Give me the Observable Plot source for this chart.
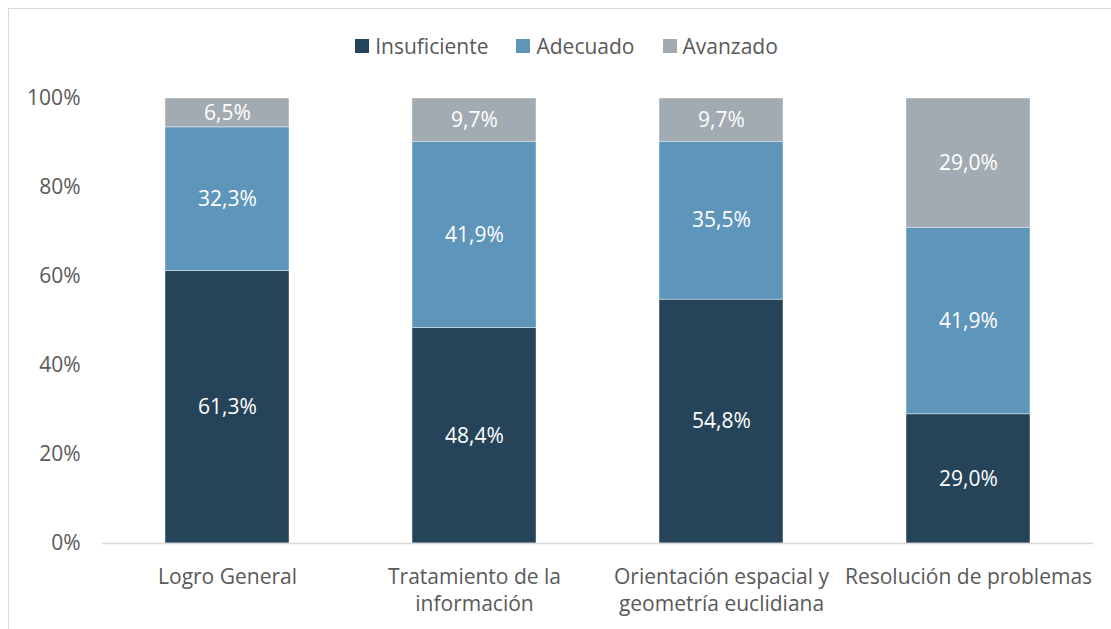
<!DOCTYPE html>
<html>
<head>
<meta charset="utf-8">
<script src="https://cdn.jsdelivr.net/npm/d3@7"></script>
<script src="https://cdn.jsdelivr.net/npm/@observablehq/plot@0.6"></script>
<style>
  html, body { margin: 0; padding: 0; background: #fff; }
  #wrap { position: relative; width: 1111px; height: 629px; overflow: hidden; font-family: "Open Sans", sans-serif; }
  #frame { position: absolute; left: 8px; top: 8px; width: 1200px; height: 700px; border: 1px solid #d9d9d9; box-sizing: border-box; }
  #legend { position: relative; height: 64px; display: flex; justify-content: center; align-items: flex-start; gap: 28px; font-size: 21px; color: #595959; padding-left: 22px; box-sizing: border-box; }
  #legend .item { display: flex; align-items: center; margin-top: 32px; line-height: 28px; }
  #legend .sw { width: 14px; height: 14px; margin-right: 6px; }
  #chart { position: relative; }
</style>
</head>
<body>
<div id="wrap">
  <div id="frame"></div>
  <div id="legend"></div>
  <div id="chart"></div>
</div>
<script>
const categories = ["Logro General", "Tratamiento de la información", "Orientación espacial y geometría euclidiana", "Resolución de problemas"];
const tickLabels = ["Logro General", "Tratamiento de la\ninformación", "Orientación espacial y\ngeometría euclidiana", "Resolución de problemas"];
const levels = ["Insuficiente", "Adecuado", "Avanzado"];
const colors = ["#264459", "#5e95ba", "#a2abb1"];
const insuficiente = [61.3, 48.4, 54.8, 29.0];
const adecuado = [32.3, 41.9, 35.5, 41.9];
const avanzado = [6.5, 9.7, 9.7, 29.0];
const yTicks = [0, 20, 40, 60, 80, 100];

const series = [insuficiente, adecuado, avanzado];
const data = [];
categories.forEach((c, i) => {
  levels.forEach((l, j) => data.push({cat: c, level: l, value: series[j][i]}));
});

const legend = document.getElementById("legend");
levels.forEach((l, j) => {
  const it = document.createElement("div");
  it.className = "item";
  const sw = document.createElement("div");
  sw.className = "sw";
  sw.style.background = colors[j];
  const tx = document.createElement("span");
  tx.textContent = l;
  it.appendChild(sw); it.appendChild(tx);
  legend.appendChild(it);
});

const fmt = v => v.toFixed(1).replace(".", ",") + "%";

const chart = Plot.plot({
  width: 1111,
  height: 565,
  marginTop: 34,
  marginBottom: 86,
  marginLeft: 102,
  marginRight: 18,
  style: {fontFamily: "'Open Sans', sans-serif", fontSize: "21px", color: "#595959", background: "transparent"},
  x: {domain: categories, paddingInner: 0.5, paddingOuter: 0.25, label: null},
  y: {domain: [0, 1], label: null},
  color: {domain: levels, range: colors},
  marks: [
    Plot.barY(data, Plot.stackY({offset: "normalize", x: "cat", y: "value", fill: "level", stroke: "#ffffff", strokeWidth: 0.6, strokeOpacity: 0.7})),
    Plot.ruleY([0], {stroke: "#d9d9d9", strokeWidth: 1.3}),
    Plot.text(data, Plot.stackY({offset: "normalize", x: "cat", y: "value", text: d => fmt(d.value), fill: "white", fontSize: 21})),
    Plot.axisY(yTicks.map(v => v / 100), {tickSize: 0, tickPadding: 22, tickFormat: d => Math.round(d * 100) + "%", label: null, fontSize: 21, fill: "#595959"}),
    Plot.axisX({tickSize: 0, tickPadding: 21, tickFormat: d => tickLabels[categories.indexOf(d)], label: null, fontSize: 21, fill: "#595959", lineHeight: 1.3})
  ]
});
document.getElementById("chart").appendChild(chart);
</script>
</body>
</html>
